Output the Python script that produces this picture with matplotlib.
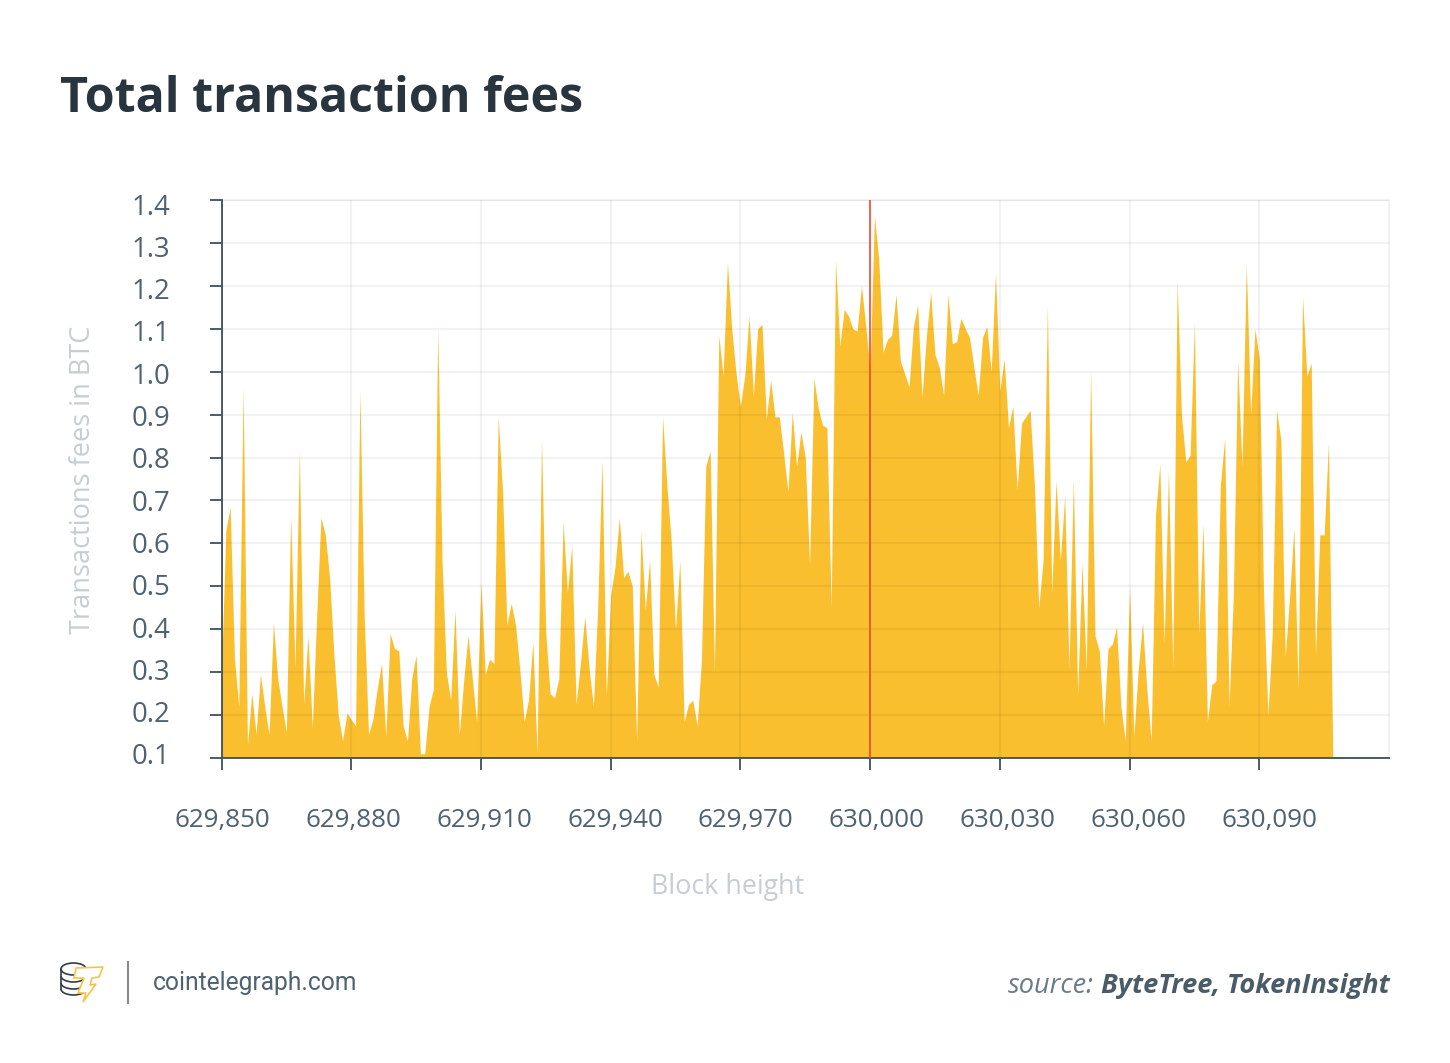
import numpy as np
import matplotlib
matplotlib.use("Agg")
import matplotlib.pyplot as plt
from matplotlib.patches import Ellipse, Polygon, Arc

plt.rcParams['font.family'] = ['Open Sans', 'DejaVu Sans']

title = "Total transaction fees"
x_ticks = [629850, 629880, 629910, 629940, 629970, 630000, 630030, 630060, 630090]
y_ticks = [0.1, 0.2, 0.3, 0.4, 0.5, 0.6, 0.7, 0.8, 0.9, 1.0, 1.1, 1.2, 1.3, 1.4]
halving_block = 630000

# fees, one value per block starting at 629,850
fees_1 = [0.30, 0.63, 0.685, 0.33, 0.22, 0.965, 0.13, 0.25, 0.155, 0.295,
          0.22, 0.155, 0.415, 0.285, 0.22, 0.16, 0.665, 0.31, 0.815, 0.225,
          0.385, 0.17, 0.43, 0.66, 0.62, 0.52, 0.34, 0.2, 0.14, 0.205,
          0.19, 0.175, 0.955, 0.43, 0.155, 0.19, 0.26, 0.32, 0.15, 0.39,
          0.355, 0.35, 0.175, 0.14, 0.285, 0.34, 0.11, 0.11, 0.22, 0.26,
          1.10, 0.56, 0.30, 0.235, 0.445, 0.155, 0.28, 0.385, 0.285, 0.185,
          0.51, 0.295, 0.33, 0.32, 0.895, 0.72, 0.41]
fees_2 = [0.46, 0.41, 0.305, 0.185, 0.235, 0.37, 0.11, 0.845, 0.39, 0.25,
          0.24, 0.285, 0.65, 0.485, 0.595, 0.225, 0.32, 0.43, 0.31, 0.22,
          0.45, 0.795, 0.245, 0.48, 0.545, 0.66, 0.52, 0.535, 0.50, 0.14,
          0.63, 0.445, 0.56, 0.295, 0.265, 0.895, 0.735, 0.605, 0.40, 0.56,
          0.185, 0.225, 0.235, 0.175, 0.33, 0.78, 0.815, 0.30, 1.085, 0.99,
          1.255, 1.10, 0.995, 0.92, 0.99, 1.13, 0.945, 1.10, 1.11, 0.89,
          0.98, 0.895, 0.895, 0.81, 0.72, 0.905, 0.78, 0.86]
fees_3 = [0.80, 0.55, 0.985, 0.915, 0.875, 0.87, 0.45, 1.26, 1.06, 1.145,
          1.13, 1.10, 1.095, 1.20, 1.105, 1.005, 1.365, 1.26, 1.045, 1.075,
          1.085, 1.18, 1.025, 0.995, 0.965, 1.105, 1.155, 0.94, 1.08, 1.185,
          1.04, 1.01, 0.945, 1.18, 1.065, 1.07, 1.125, 1.10, 1.08, 1.01,
          0.945, 1.08, 1.105, 1.0, 1.23, 0.955, 1.03, 0.87, 0.92, 0.725,
          0.88, 0.895, 0.91, 0.735, 0.45, 0.56, 1.155, 0.485, 0.745, 0.56,
          0.71, 0.31, 0.75, 0.25, 0.555, 0.305]
fees_4 = [1.005, 0.385, 0.35, 0.175, 0.355, 0.365, 0.405, 0.22, 0.14, 0.50,
          0.15, 0.305, 0.415, 0.26, 0.14, 0.665, 0.785, 0.365, 0.77, 0.31,
          1.21, 0.90, 0.79, 0.805, 1.115, 0.39, 0.645, 0.185, 0.27, 0.28,
          0.735, 0.845, 0.22, 0.48, 1.025, 0.78, 1.25, 0.90, 1.10, 1.03,
          0.48, 0.20, 0.39, 0.91, 0.84, 0.335, 0.475, 0.635, 0.26, 1.175,
          0.99, 1.02, 0.34, 0.62, 0.62, 0.835, 0.10]

fees = np.array(fees_1 + fees_2 + fees_3 + fees_4)
blocks = np.arange(629850, 629850 + len(fees))

W, H = 1450, 1063
AXIS = '#4a5c68'
TEXT = '#4f6270'
LIGHT = '#c6ced3'
COIN = '#333d45'

fig = plt.figure(figsize=(W / 100, H / 100), dpi=100)
ax = fig.add_axes([221.5 / W, (H - 758) / H, 1167.5 / W, 558 / H])

ax.fill_between(blocks, fees, 0.1, color='#f9bf2f', lw=0, zorder=1)
ax.axvline(halving_block, color='#ea4c3c', lw=1.2, zorder=4)

ax.set_xlim(629850, 630120)
ax.set_ylim(0.1, 1.4)
ax.set_xticks(x_ticks)
ax.set_yticks(y_ticks)
ax.set_xticklabels([])
ax.set_yticklabels([])
ax.grid(True, color='black', alpha=0.05, lw=1.5, zorder=2)
ax.set_axisbelow(False)
ax.tick_params(length=8.5, width=1.4, color=AXIS)

for side in ['left', 'bottom']:
    ax.spines[side].set_color(AXIS)
    ax.spines[side].set_linewidth(1.4)
for side in ['top', 'right']:
    ax.spines[side].set_color('#f2f2f2')
    ax.spines[side].set_linewidth(1.5)
    ax.spines[side].set_zorder(0)

# tick labels in the original drift a little from their ticks
for i, t in enumerate(x_ticks):
    ax.annotate(f"{t:,}", xy=(t, 0), xycoords=ax.get_xaxis_transform(),
                xytext=(1 + i * 1.1, -62), textcoords='offset pixels',
                ha='center', va='center', fontsize=18.7, color=TEXT)
for i, v in enumerate(y_ticks):
    ax.annotate(f"{v:.1f}", xy=(0, v), xycoords=ax.get_yaxis_transform(),
                xytext=(-51, 0.5 - i * 0.62), textcoords='offset pixels',
                ha='right', va='center', fontsize=19.8, color=TEXT)

# page level text and logo, in pixel coordinates
page = fig.add_axes([0, 0, 1, 1], zorder=-1)
page.set_xlim(0, W)
page.set_ylim(H, 0)
page.axis('off')

page.text(60, 99.5, title, fontsize=34.8, fontweight='bold', color='#28343e',
          ha='left', va='center')
page.text(728, 887, "Block height", fontsize=19.4, color=LIGHT,
          ha='center', va='center')
page.text(83.5, 479.5, "Transactions fees in BTC", fontsize=19.5, color=LIGHT,
          rotation=90, ha='center', va='center')

page.plot([128.5, 128.5], [962, 1003], color='#8a8a8a', lw=1.5)
page.text(153, 983, "cointelegraph.com", fontsize=17.7, color=TEXT,
          family=['Roboto', 'DejaVu Sans'], ha='left', va='center')
page.text(1390, 986, "ByteTree, TokenInsight", fontsize=19.5, color=AXIS,
          fontweight='bold', fontstyle='italic', ha='right', va='center')
page.text(1094, 986, "source:", fontsize=19.5, color='#6b7b87',
          fontstyle='italic', ha='right', va='center')

# coin stack
page.add_patch(Ellipse((73.5, 969), 25, 12, facecolor='none', edgecolor=COIN, lw=1.2))
for cy in [976, 983, 989]:
    page.add_patch(Arc((73.5, cy), 25, 12, theta1=0, theta2=180, color=COIN, lw=1.2))
page.plot([61, 61], [969, 989], color=COIN, lw=1.2)
page.plot([86, 86], [969, 989], color=COIN, lw=1.2)
# bolt shaped T
bolt = [(76, 968), (103, 967), (99, 977), (92, 978), (90, 985), (96, 984),
        (83, 1002), (86, 993), (78, 993), (84, 978), (74, 978)]
page.add_patch(Polygon(bolt, closed=True, facecolor='white',
                       edgecolor='#f6c544', lw=1.2, zorder=3))

fig.savefig("out.png", dpi=100)
